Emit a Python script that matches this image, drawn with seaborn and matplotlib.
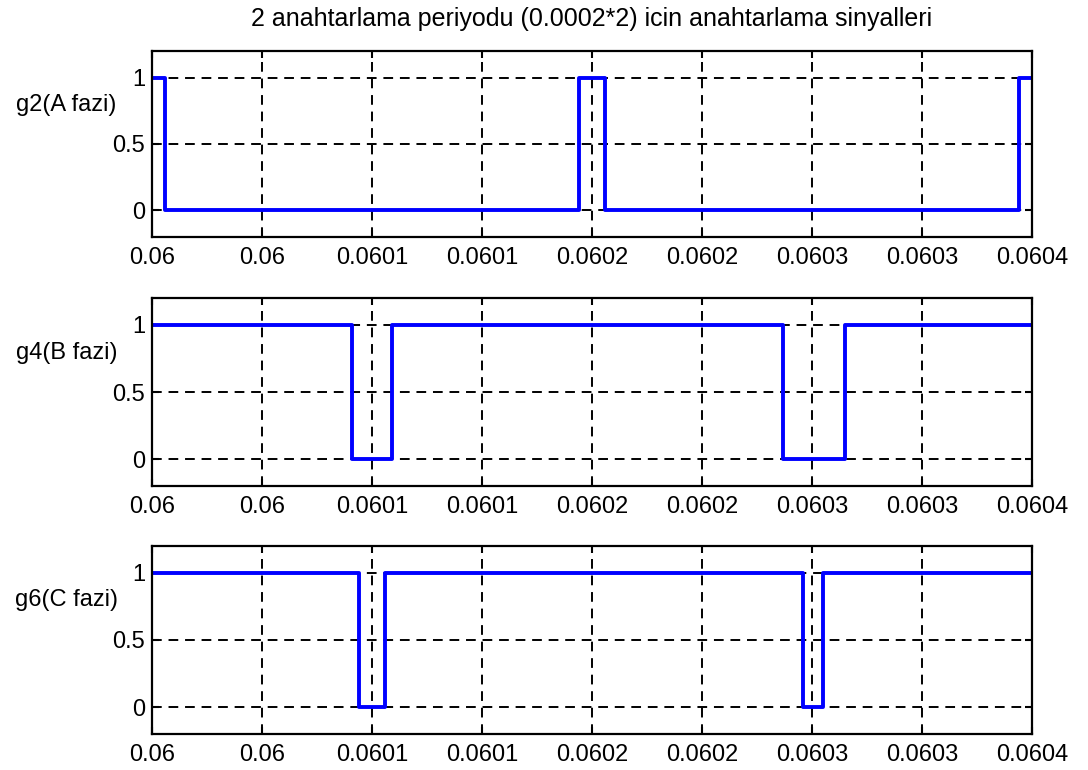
import matplotlib
matplotlib.use("Agg")
import matplotlib.pyplot as plt
import seaborn as sns
import pandas as pd

# Switching instants (s) and gate levels for the three phases
g2_time = [0.060000, 0.060006, 0.060194, 0.060206, 0.060394, 0.060400]
g2_level = [1, 0, 1, 0, 1, 1]
g4_time = [0.060000, 0.060091, 0.060109, 0.060287, 0.060315, 0.060400]
g4_level = [1, 0, 1, 0, 1, 1]
g6_time = [0.060000, 0.060094, 0.060106, 0.060296, 0.060305, 0.060400]
g6_level = [1, 0, 1, 0, 1, 1]

signal_names = ["g2(A fazi)", "g4(B fazi)", "g6(C fazi)"]
x_ticks = [0.06000, 0.06005, 0.06010, 0.06015, 0.06020, 0.06025, 0.06030, 0.06035, 0.06040]
x_tick_labels = ["0.06", "0.06", "0.0601", "0.0601", "0.0602", "0.0602", "0.0603", "0.0603", "0.0604"]
y_ticks = [0, 0.5, 1]
y_tick_labels = ["0", "0.5", "1"]
title = "2 anahtarlama periyodu (0.0002*2) icin anahtarlama sinyalleri"

sns.set_theme(style="white")
plt.rcParams["font.family"] = ["Liberation Sans", "DejaVu Sans"]
plt.rcParams["text.color"] = "black"
plt.rcParams["axes.labelcolor"] = "black"
plt.rcParams["xtick.color"] = "black"
plt.rcParams["ytick.color"] = "black"
plt.rcParams["xtick.direction"] = "in"
plt.rcParams["ytick.direction"] = "in"

fig = plt.figure(figsize=(10.88, 7.70), dpi=100, facecolor="white")

# axes rectangles: left, bottom, width, height (figure fractions)
left, width = 0.1397, 0.8088
bottoms = [0.6922, 0.3688, 0.0468]
heights = [0.2416, 0.2442, 0.2442]

series = [(g2_time, g2_level), (g4_time, g4_level), (g6_time, g6_level)]

for i, ((t, lvl), name) in enumerate(zip(series, signal_names)):
    ax = fig.add_axes([left, bottoms[i], width, heights[i]])
    df = pd.DataFrame({"t": t, "g": lvl})
    sns.lineplot(data=df, x="t", y="g", ax=ax, drawstyle="steps-post",
                 color="#0000ff", linewidth=2.8, estimator=None, sort=False)
    ax.set_xlim(0.0600, 0.0604)
    ax.set_ylim(-0.2, 1.2)
    ax.set_xticks(x_ticks)
    ax.set_xticklabels(x_tick_labels, fontsize=17)
    ax.set_yticks(y_ticks)
    ax.set_yticklabels(y_tick_labels, fontsize=17)
    ax.tick_params(axis="both", which="major", length=5, width=1.5,
                   top=True, right=True, bottom=True, left=True,
                   direction="in", pad=5, colors="black")
    ax.tick_params(axis="x", pad=7)
    ax.grid(True, color="black", linestyle=(0, (5, 3.5)), linewidth=1.4)
    for sp in ax.spines.values():
        sp.set_visible(True)
        sp.set_color("black")
        sp.set_linewidth(1.6)
    ax.set_xlabel("")
    ax.set_ylabel(name, rotation=0, fontsize=17, ha="center", va="center",
                  color="black")
    ax.yaxis.set_label_coords(-0.097, 0.71)
    if i == 0:
        ax.set_title(title, fontsize=18, pad=18, color="black")

fig.savefig("out.png", dpi=100, facecolor="white")
